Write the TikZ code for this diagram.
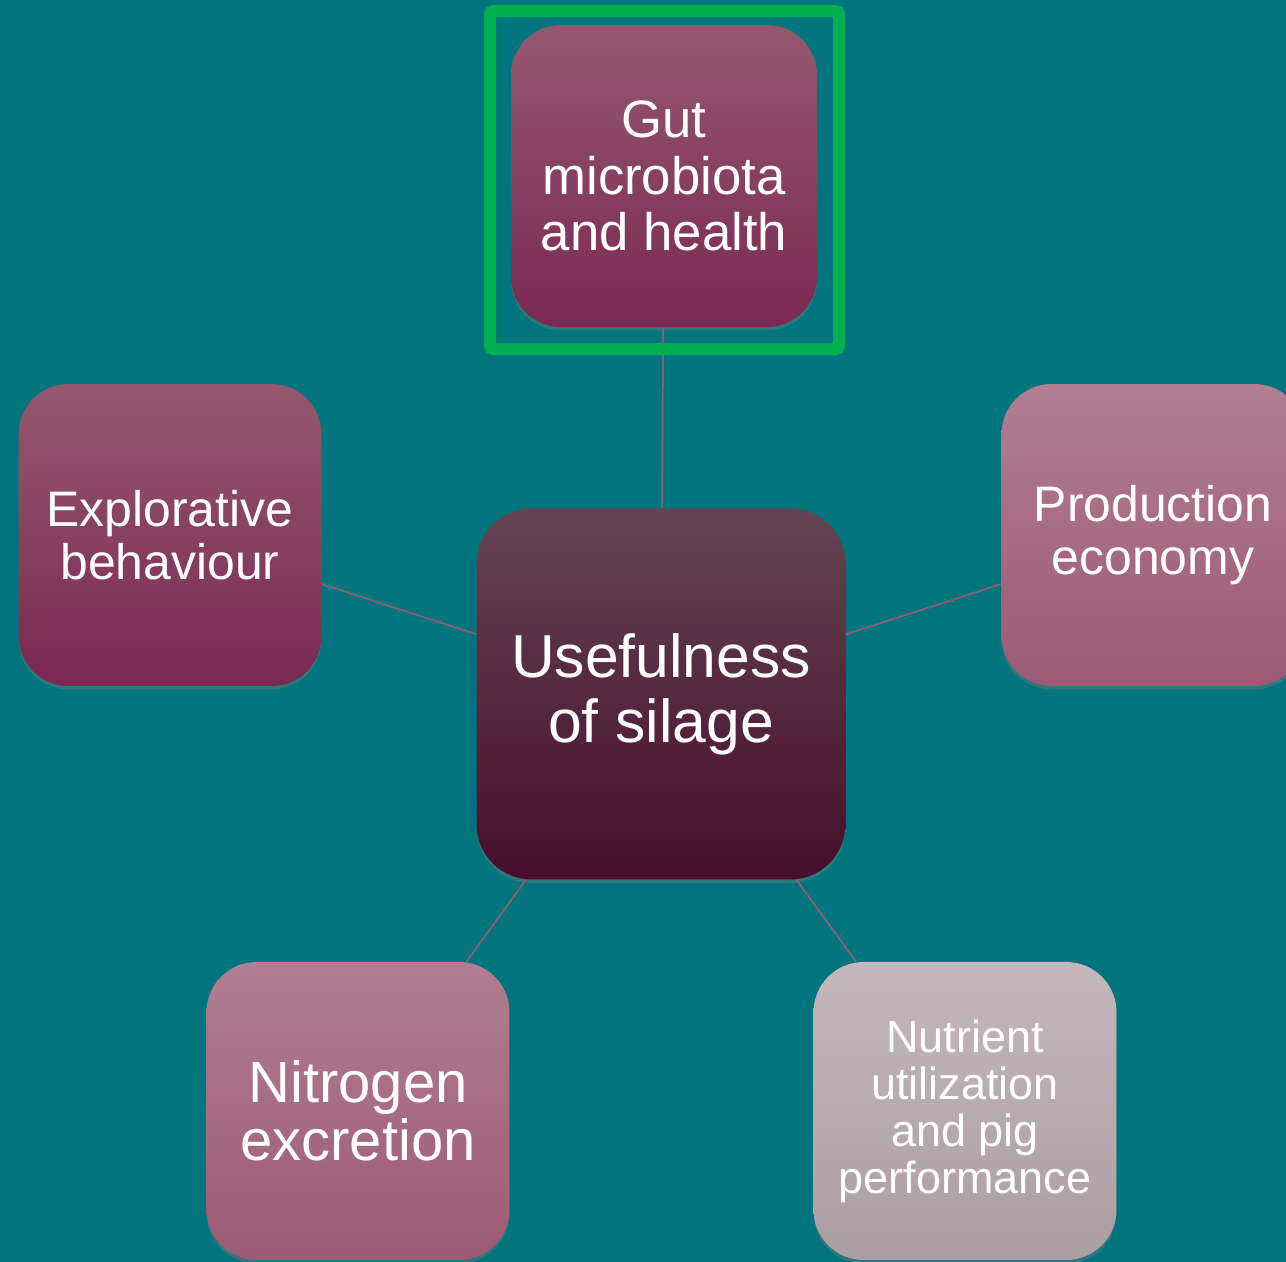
\documentclass[tikz,border=0pt]{standalone}
\usepackage{fontspec}
\setmainfont{Liberation Sans}
\usetikzlibrary{shadows}

\definecolor{fond}{HTML}{00757D}
\definecolor{cadre}{HTML}{00B050}
\definecolor{lienc}{HTML}{86607A}
\definecolor{centreH}{HTML}{654452}
\definecolor{centreM}{HTML}{4C1832}
\definecolor{centreB}{HTML}{460E2C}
\definecolor{foncH}{HTML}{95586F}
\definecolor{foncB}{HTML}{7A2952}
\definecolor{moyH}{HTML}{B17E92}
\definecolor{moyB}{HTML}{9C5A74}
\definecolor{clairH}{HTML}{C5B8BD}
\definecolor{clairB}{HTML}{AA9EA3}

\begin{document}
\begin{tikzpicture}[x=0.02cm, y=-0.02cm,
  bloc/.style={rectangle, rounded corners=1cm, inner sep=0pt, text=white, align=center,
    minimum width=6.06cm, minimum height=6.04cm,
    drop shadow={shadow xshift=0pt, shadow yshift=-2pt, opacity=.35}},
  lien/.style={draw=lienc, line width=1.1pt}]
  \useasboundingbox (0,0) rectangle (1286,1262);
  \clip (0,0) rectangle (1286,1262);
  \fill[fond] (0,0) rectangle (1286,1262);

  % bloc central
  \node[bloc, minimum width=7.38cm, minimum height=7.42cm, rounded corners=1.1cm,
    top color=centreH, middle color=centreM, bottom color=centreB,
    font=\fontsize{34.5}{37}\selectfont] (usage) at (661,694) {Usefulness\\of silage};

  % blocs autour
  \node[bloc, minimum width=6.12cm, top color=foncH, bottom color=foncB,
    font=\fontsize{30}{32}\selectfont] (gut) at (664,176) {Gut\\microbiota\\and health};
  \node[bloc, top color=foncH, bottom color=foncB,
    font=\fontsize{28.4}{30.2}\selectfont] (explo) at (170,535) {Explorative\\behaviour};
  \node[bloc, top color=moyH, bottom color=moyB,
    font=\fontsize{28.4}{30.2}\selectfont] (prod) at (1153,535) {Production\\economy};
  \node[bloc, minimum height=5.96cm, top color=moyH, bottom color=moyB,
    font=\fontsize{33}{33}\selectfont] (azote) at (358,1111) {Nitrogen\\excretion};
  \node[bloc, minimum height=5.96cm, top color=clairH, bottom color=clairB,
    font=\fontsize{25.6}{26.7}\selectfont] (nutri) at (965,1111) {Nutrient\\utilization\\and pig\\performance};

  % liens
  \draw[lien] (usage) -- (gut);
  \draw[lien] (usage) -- (explo);
  \draw[lien] (usage) -- (prod);
  \draw[lien] (usage) -- (azote);
  \draw[lien] (usage) -- (nutri);

  % cadre vert
  \draw[cadre, line width=0.24cm, rounded corners=2pt] (490,11) rectangle (839,349);
\end{tikzpicture}
\end{document}
